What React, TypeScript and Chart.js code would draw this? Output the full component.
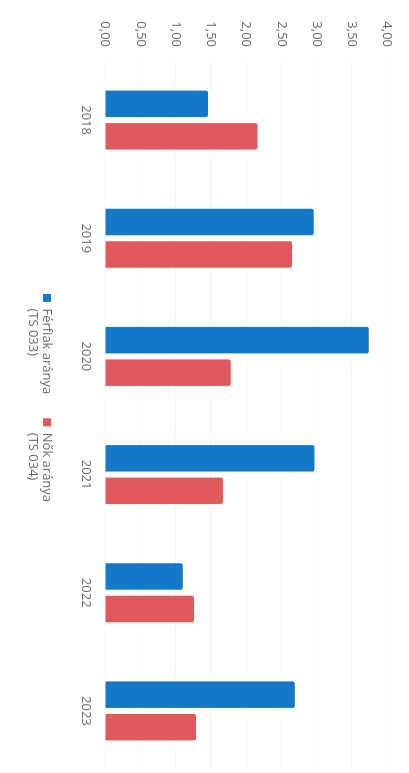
import { useEffect, useRef } from 'react';
import { Chart, registerables } from 'chart.js';

Chart.register(...registerables);

const years = ['2018', '2019', '2020', '2021', '2022', '2023'];
const menRatio = [1.46, 2.96, 3.74, 2.97, 1.1, 2.69];
const womenRatio = [2.16, 2.65, 1.78, 1.67, 1.26, 1.29];
const menLabel = ['Férfiak aránya', '(TS 033)'];
const womenLabel = ['Nők aránya', '(TS 034)'];
const valueMin = 0;
const valueMax = 4;
const valueStep = 0.5;

const BLUE = '#1478C8';
const RED = '#E05A5D';
const TEXT = '#6b6b6b';
const FONT = { family: "'Open Sans', 'Noto Sans', sans-serif", size: 13 };

function multiLine(lines: string[]) {
  const arr: any = [...lines];
  const longest = lines.reduce((a, b) => (a.length >= b.length ? a : b));
  arr.toString = () => longest;
  return arr;
}

const legendShift = {
  id: 'legendShift',
  afterUpdate(chart: any) {
    const lg = chart.legend;
    if (lg) {
      lg.left += 26;
      lg.bottom += 30;
      lg.height += 30;
    }
  },
};

export default function App() {
  const ref = useRef<HTMLCanvasElement>(null);

  useEffect(() => {
    document.body.style.margin = '0';
    document.body.style.overflow = 'hidden';
    const legendLines = [menLabel, womenLabel];
    const chart = new Chart(ref.current!, {
      type: 'bar',
      data: {
        labels: years,
        datasets: [
          {
            label: menLabel.join(' '),
            data: menRatio,
            backgroundColor: BLUE,
            borderRadius: 2,
            categoryPercentage: 0.55,
            barPercentage: 0.815,
          },
          {
            label: womenLabel.join(' '),
            data: womenRatio,
            backgroundColor: RED,
            borderRadius: 2,
            categoryPercentage: 0.55,
            barPercentage: 0.815,
          },
        ],
      },
      options: {
        responsive: false,
        animation: false,
        layout: { padding: { top: 17.5, right: 3, left: 0, bottom: 30.5 } },
        plugins: {
          legend: {
            position: 'bottom',
            labels: {
              boxWidth: 8,
              boxHeight: 8,
              padding: 24,
              color: TEXT,
              font: { ...FONT, lineHeight: 1.1 },
              generateLabels: (c: any) => {
                const items = (Chart.defaults.plugins.legend.labels as any).generateLabels(c);
                items.forEach((it: any, i: number) => {
                  it.text = multiLine(legendLines[i]);
                });
                return items;
              },
            },
          },
          tooltip: { enabled: false },
        },
        scales: {
          x: {
            grid: { display: false, drawTicks: false },
            border: { display: false },
            ticks: { font: FONT, color: TEXT, padding: 12 },
            afterFit: (s: any) => {
              s.height -= 12;
            },
          },
          y: {
            min: valueMin,
            max: valueMax,
            ticks: {
              stepSize: valueStep,
              padding: 14,
              font: FONT,
              color: TEXT,
              callback: (v: any) => Number(v).toFixed(2).replace('.', ','),
            },
            grid: { color: 'rgba(0,0,0,0.04)', drawTicks: false },
            border: { display: false },
            afterFit: (s: any) => {
              s.width = 61;
            },
          },
        },
      },
      plugins: [legendShift],
    } as any);
    return () => chart.destroy();
  }, []);

  return (
    <div
      style={{
        position: 'absolute',
        top: 0,
        left: 0,
        width: 773,
        height: 409,
        transformOrigin: '0 0',
        transform: 'translateX(409px) rotate(90deg)',
        background: '#fff',
      }}
    >
      <canvas ref={ref} width={773} height={409} style={{ display: 'block' }} />
    </div>
  );
}
